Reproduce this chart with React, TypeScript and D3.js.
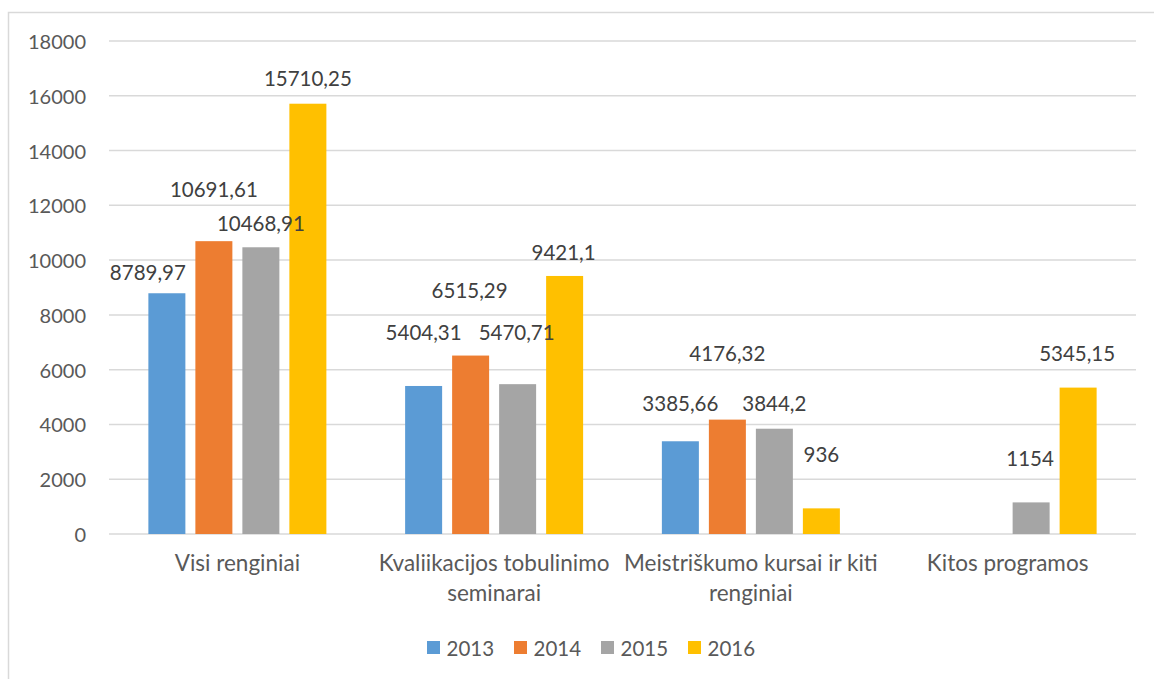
import React from "react";
import * as d3 from "d3";

const categories: string[][] = [
  ["Visi renginiai"],
  ["Kvaliikacijos tobulinimo", "seminarai"],
  ["Meistriškumo kursai ir kiti", "renginiai"],
  ["Kitos programos"],
];
const seriesNames = ["2013", "2014", "2015", "2016"];
const seriesColors = ["#5B9BD5", "#ED7D31", "#A5A5A5", "#FFC000"];
const values2013: (number | null)[] = [8789.97, 5404.31, 3385.66, null];
const values2014: (number | null)[] = [10691.61, 6515.29, 4176.32, null];
const values2015: (number | null)[] = [10468.91, 5470.71, 3844.2, 1154];
const values2016: (number | null)[] = [15710.25, 9421.1, 936, 5345.15];
const labels2013 = ["8789,97", "5404,31", "3385,66", ""];
const labels2014 = ["10691,61", "6515,29", "4176,32", ""];
const labels2015 = ["10468,91", "5470,71", "3844,2", "1154"];
const labels2016 = ["15710,25", "9421,1", "936", "5345,15"];
const yTicks = [0, 2000, 4000, 6000, 8000, 10000, 12000, 14000, 16000, 18000];

// layout: label placement (pixel offsets from bar top / centre), like Excel's auto layout
const labelLift = [
  [21.6, 52, 24.6, 25.7],
  [54, 65.6, 52.5, 24.3],
  [38, 66.6, 25.7, 54.4],
  [0, 0, 44.4, 35],
];
const labelDx = [
  [-19, 0, 0, 0],
  [0, -1, -1, -1],
  [0, 0, 0, 0],
  [0, 0, -1, -1],
];

const W = 1154;
const H = 679;
const FONT = "Lato, 'Open Sans', sans-serif";
const TXT = "#595959";

export default function App() {
  const series = [values2013, values2014, values2015, values2016];
  const seriesLabels = [labels2013, labels2014, labels2015, labels2016];
  const x0 = d3.scaleBand<number>().domain(categories.map((_, i) => i)).range([109, 1136]);
  const groupW = 178;
  const x1 = d3.scaleBand<number>().domain(seriesNames.map((_, i) => i)).range([0, groupW]).paddingInner(0.2128).paddingOuter(0);
  const y = d3.scaleLinear().domain([0, 18000]).range([534, 41]);
  const groupStart = (ci: number) => (x0(ci) as number) + (x0.bandwidth() - groupW) / 2;

  return (
    <svg width={W} height={H} style={{ position: "absolute", left: 0, top: 0, background: "#fff" }}>
      <rect x={8.5} y={12.5} width={W + 20} height={H + 20} fill="#fff" stroke="#D9D9D9" strokeWidth={1.5} />
      {yTicks.map((t) => (
        <g key={t}>
          <line x1={109} x2={1136} y1={y(t)} y2={y(t)} stroke="#D9D9D9" strokeWidth={1.5} />
          <text x={86} y={y(t)} textAnchor="end" dominantBaseline="central" fontFamily={FONT} fontSize={20} fill={TXT}>
            {t}
          </text>
        </g>
      ))}
      {series.map((vals, si) =>
        vals.map((v, ci) =>
          v == null ? null : (
            <rect
              key={`b${si}-${ci}`}
              x={groupStart(ci) + (x1(si) as number)}
              y={y(v)}
              width={x1.bandwidth()}
              height={y(0) - y(v)}
              fill={seriesColors[si]}
            />
          )
        )
      )}
      {series.map((vals, si) =>
        vals.map((v, ci) =>
          v == null ? null : (
            <text
              key={`l${si}-${ci}`}
              x={groupStart(ci) + (x1(si) as number) + x1.bandwidth() / 2 + labelDx[ci][si]}
              y={y(v) - labelLift[ci][si]}
              textAnchor="middle"
              dominantBaseline="central"
              fontFamily={FONT}
              fontSize={20.5}
              fill="#404040"
            >
              {seriesLabels[si][ci]}
            </text>
          )
        )
      )}
      {categories.map((lines, ci) => (
        <text
          key={`c${ci}`}
          textAnchor="middle"
          fontFamily={FONT}
          fontSize={22.5}
          fill={TXT}
        >
          {lines.map((ln, li) => (
            <tspan key={li} x={(x0(ci) as number) + x0.bandwidth() / 2} y={562 + li * 30} dominantBaseline="central">
              {ln}
            </tspan>
          ))}
        </text>
      ))}
      {seriesNames.map((nm, si) => (
        <g key={`lg${si}`} transform={`translate(${427 + si * 87},0)`}>
          <rect x={0} y={641} width={13} height={13} fill={seriesColors[si]} />
          <text x={19.5} y={648} dominantBaseline="central" fontFamily={FONT} fontSize={20.5} fill={TXT}>
            {nm}
          </text>
        </g>
      ))}
    </svg>
  );
}
